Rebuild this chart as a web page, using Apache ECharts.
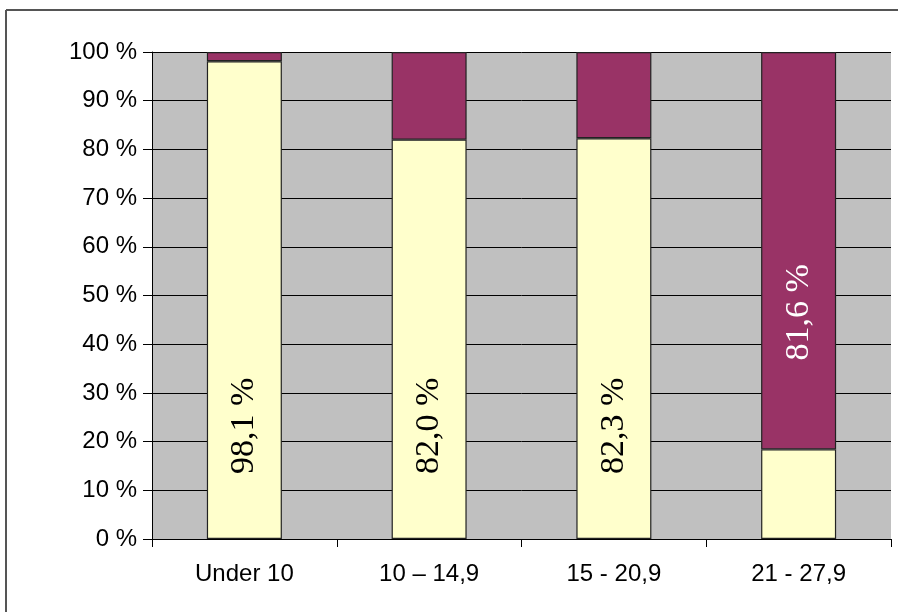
<!DOCTYPE html>
<html>
<head>
<meta charset="utf-8">
<script src="https://cdn.jsdelivr.net/npm/echarts@6/dist/echarts.min.js"></script>
<style>
html,body{margin:0;padding:0;background:#fff;overflow:hidden;}
#chart{width:898px;height:612px;}
</style>
</head>
<body>
<div id="chart"></div>
<script>
const categories = ['Under 10', '10 \u2013 14,9', '15 - 20,9', '21 - 27,9'];
const lowerValues = [98.1, 82.0, 82.3, 18.4];
const upperValues = [1.9, 18.0, 17.7, 81.6];
const lowerLabels = ['98,1 %', '82,0 %', '82,3 %', ''];
const upperLabels = ['', '', '', '81,6 %'];
const yTicks = [0, 10, 20, 30, 40, 50, 60, 70, 80, 90, 100];

const chart = echarts.init(document.getElementById('chart'), null, {renderer: 'canvas'});

const labelBase = {
  show: true,
  position: 'insideBottom',
  rotate: 90,
  align: 'left',
  verticalAlign: 'middle',
  fontFamily: '"Liberation Serif", "Times New Roman", serif',
  fontSize: 34
};

const option = {
  animation: false,
  backgroundColor: '#ffffff',
  graphic: [
    {
      type: 'line',
      shape: {x1: 6, y1: 10, x2: 6, y2: 612},
      style: {stroke: '#555555', lineWidth: 2},
      silent: true
    },
    {
      type: 'line',
      shape: {x1: 6, y1: 10, x2: 898, y2: 10},
      style: {stroke: '#555555', lineWidth: 2},
      silent: true
    }
  ],
  grid: {left: 152, right: 7, top: 52, bottom: 73, show: true, backgroundColor: '#C0C0C0', borderWidth: 0},
  xAxis: {
    type: 'category',
    data: categories,
    axisLine: {lineStyle: {color: '#000', width: 1}},
    axisTick: {show: true, length: 8, alignWithLabel: false, lineStyle: {color: '#000'}},
    axisLabel: {color: '#000', fontFamily: '"Liberation Sans", Arial, sans-serif', fontSize: 24, margin: 23}
  },
  yAxis: {
    type: 'value',
    min: yTicks[0],
    max: yTicks[yTicks.length - 1],
    interval: 10,
    axisLine: {show: true, lineStyle: {color: '#000', width: 1}},
    axisTick: {show: true, length: 9, lineStyle: {color: '#000'}},
    axisLabel: {color: '#000', fontFamily: '"Liberation Sans", Arial, sans-serif', fontSize: 24, margin: 15, formatter: '{value} %'},
    splitLine: {show: true, lineStyle: {color: '#000', width: 1}}
  },
  series: [
    {
      type: 'bar',
      stack: 'total',
      barWidth: 75,
      data: lowerValues,
      itemStyle: {color: '#FFFFCC', borderColor: '#222', borderWidth: 1.2},
      label: Object.assign({}, labelBase, {
        color: '#000',
        distance: 65,
        formatter: p => lowerLabels[p.dataIndex]
      })
    },
    {
      type: 'bar',
      stack: 'total',
      barWidth: 75,
      data: upperValues,
      itemStyle: {color: '#993366', borderColor: '#222', borderWidth: 1.2},
      label: Object.assign({}, labelBase, {
        color: '#fff',
        distance: 89,
        formatter: p => upperLabels[p.dataIndex]
      })
    }
  ]
};
chart.setOption(option);
</script>
</body>
</html>
